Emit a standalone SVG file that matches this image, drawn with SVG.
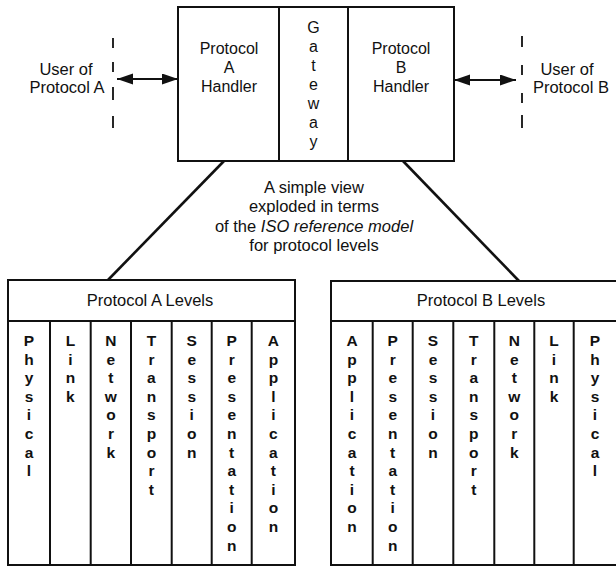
<svg xmlns="http://www.w3.org/2000/svg" width="616" height="567" viewBox="0 0 616 567">
<style>
text{font-family:"Liberation Sans",Arial,sans-serif;font-size:16px;fill:#111;text-anchor:middle}
.big{font-size:16.5px}
.box{fill:#fff;stroke:#111;stroke-width:2}
.ln{stroke:#111;stroke-width:2;fill:none}
.diag{stroke:#111;stroke-width:2.6;fill:none}
.dash{stroke:#111;stroke-width:1.8;fill:none}
.col{font-size:15.5px;font-weight:bold}
</style>
<defs>
<marker id="ah" markerUnits="userSpaceOnUse" markerWidth="17" markerHeight="12" refX="16" refY="5.5" orient="auto-start-reverse">
<path d="M0,0 L16,5.5 L0,11 z" fill="#111"/>
</marker>
</defs>
<rect width="616" height="567" fill="#fff"/>

<g id="userA">
<path class="dash" d="M113 38V48M113 62V72M113 87V100M113 116V128"/>
<text class="big" x="66" y="75">User of</text>
<text class="big" x="67" y="93">Protocol A</text>
</g>

<g id="userB">
<path class="dash" d="M522 36V47M522 65V75M522 93V103M522 115V128"/>
<text class="big" x="567" y="75">User of</text>
<text class="big" x="571" y="93">Protocol B</text>
</g>

<g id="gatewayBox">
<rect class="box" x="178" y="7" width="276" height="154"/>
<line class="ln" x1="279" y1="7" x2="279" y2="161"/>
<line class="ln" x1="348" y1="7" x2="348" y2="161"/>
</g>
<g id="handlerA">
<text x="229" y="54">Protocol</text>
<text x="229" y="73">A</text>
<text x="229" y="92">Handler</text>
</g>
<g id="gateway">
<text x="313.5" y="33">G</text>
<text x="313.5" y="52">a</text>
<text x="313.5" y="71">t</text>
<text x="313.5" y="90">e</text>
<text x="313.5" y="109">w</text>
<text x="313.5" y="128">a</text>
<text x="313.5" y="147">y</text>
</g>
<g id="handlerB">
<text x="401" y="54">Protocol</text>
<text x="401" y="73">B</text>
<text x="401" y="92">Handler</text>
</g>

<g id="caption">
<text class="big" x="314" y="193">A simple view</text>
<text class="big" x="314" y="212">exploded in terms</text>
<text class="big" x="314" y="231.5">of the <tspan font-style="italic">ISO reference model</tspan></text>
<text class="big" x="314" y="251">for protocol levels</text>
</g>

<g id="connectors">
<line class="ln" x1="117" y1="79" x2="178" y2="79" marker-start="url(#ah)" marker-end="url(#ah)"/>
<line class="ln" x1="454" y1="80" x2="516" y2="80" marker-start="url(#ah)" marker-end="url(#ah)"/>
<line class="diag" x1="224" y1="161" x2="108" y2="280"/>
<line class="diag" x1="403" y1="161" x2="519" y2="281"/>
</g>

<g id="levelsA">
<rect class="box" x="8" y="280" width="287" height="285"/>
<line class="ln" x1="8" y1="321" x2="295" y2="321"/>
<path class="ln" d="M50 321V565M90.7 321V565M131 321V565M171.7 321V565M211.7 321V565M251.7 321V565"/>
<text class="big" x="150" y="306">Protocol A Levels</text>
<text class="col"><tspan x="29" y="346">P</tspan><tspan x="29" dy="18.6">h</tspan><tspan x="29" dy="18.6">y</tspan><tspan x="29" dy="18.6">s</tspan><tspan x="29" dy="18.6">i</tspan><tspan x="29" dy="18.6">c</tspan><tspan x="29" dy="18.6">a</tspan><tspan x="29" dy="18.6">l</tspan></text>
<text class="col"><tspan x="70.4" y="346">L</tspan><tspan x="70.4" dy="18.6">i</tspan><tspan x="70.4" dy="18.6">n</tspan><tspan x="70.4" dy="18.6">k</tspan></text>
<text class="col"><tspan x="110.9" y="346">N</tspan><tspan x="110.9" dy="18.6">e</tspan><tspan x="110.9" dy="18.6">t</tspan><tspan x="110.9" dy="18.6">w</tspan><tspan x="110.9" dy="18.6">o</tspan><tspan x="110.9" dy="18.6">r</tspan><tspan x="110.9" dy="18.6">k</tspan></text>
<text class="col"><tspan x="151.4" y="346">T</tspan><tspan x="151.4" dy="18.6">r</tspan><tspan x="151.4" dy="18.6">a</tspan><tspan x="151.4" dy="18.6">n</tspan><tspan x="151.4" dy="18.6">s</tspan><tspan x="151.4" dy="18.6">p</tspan><tspan x="151.4" dy="18.6">o</tspan><tspan x="151.4" dy="18.6">r</tspan><tspan x="151.4" dy="18.6">t</tspan></text>
<text class="col"><tspan x="191.7" y="346">S</tspan><tspan x="191.7" dy="18.6">e</tspan><tspan x="191.7" dy="18.6">s</tspan><tspan x="191.7" dy="18.6">s</tspan><tspan x="191.7" dy="18.6">i</tspan><tspan x="191.7" dy="18.6">o</tspan><tspan x="191.7" dy="18.6">n</tspan></text>
<text class="col"><tspan x="231.7" y="346">P</tspan><tspan x="231.7" dy="18.6">r</tspan><tspan x="231.7" dy="18.6">e</tspan><tspan x="231.7" dy="18.6">s</tspan><tspan x="231.7" dy="18.6">e</tspan><tspan x="231.7" dy="18.6">n</tspan><tspan x="231.7" dy="18.6">t</tspan><tspan x="231.7" dy="18.6">a</tspan><tspan x="231.7" dy="18.6">t</tspan><tspan x="231.7" dy="18.6">i</tspan><tspan x="231.7" dy="18.6">o</tspan><tspan x="231.7" dy="18.6">n</tspan></text>
<text class="col"><tspan x="273.4" y="346">A</tspan><tspan x="273.4" dy="18.6">p</tspan><tspan x="273.4" dy="18.6">p</tspan><tspan x="273.4" dy="18.6">l</tspan><tspan x="273.4" dy="18.6">i</tspan><tspan x="273.4" dy="18.6">c</tspan><tspan x="273.4" dy="18.6">a</tspan><tspan x="273.4" dy="18.6">t</tspan><tspan x="273.4" dy="18.6">i</tspan><tspan x="273.4" dy="18.6">o</tspan><tspan x="273.4" dy="18.6">n</tspan></text>
</g>

<g id="levelsB">
<rect class="box" x="331" y="281" width="290" height="284"/>
<line class="ln" x1="331" y1="321" x2="621" y2="321"/>
<path class="ln" d="M372.7 321V565M412.7 321V565M453.3 321V565M494.3 321V565M534.3 321V565M573.7 321V565"/>
<text class="big" x="481" y="306">Protocol B Levels</text>
<text class="col"><tspan x="352" y="346">A</tspan><tspan x="352" dy="18.6">p</tspan><tspan x="352" dy="18.6">p</tspan><tspan x="352" dy="18.6">l</tspan><tspan x="352" dy="18.6">i</tspan><tspan x="352" dy="18.6">c</tspan><tspan x="352" dy="18.6">a</tspan><tspan x="352" dy="18.6">t</tspan><tspan x="352" dy="18.6">i</tspan><tspan x="352" dy="18.6">o</tspan><tspan x="352" dy="18.6">n</tspan></text>
<text class="col"><tspan x="392.7" y="346">P</tspan><tspan x="392.7" dy="18.6">r</tspan><tspan x="392.7" dy="18.6">e</tspan><tspan x="392.7" dy="18.6">s</tspan><tspan x="392.7" dy="18.6">e</tspan><tspan x="392.7" dy="18.6">n</tspan><tspan x="392.7" dy="18.6">t</tspan><tspan x="392.7" dy="18.6">a</tspan><tspan x="392.7" dy="18.6">t</tspan><tspan x="392.7" dy="18.6">i</tspan><tspan x="392.7" dy="18.6">o</tspan><tspan x="392.7" dy="18.6">n</tspan></text>
<text class="col"><tspan x="433" y="346">S</tspan><tspan x="433" dy="18.6">e</tspan><tspan x="433" dy="18.6">s</tspan><tspan x="433" dy="18.6">s</tspan><tspan x="433" dy="18.6">i</tspan><tspan x="433" dy="18.6">o</tspan><tspan x="433" dy="18.6">n</tspan></text>
<text class="col"><tspan x="473.8" y="346">T</tspan><tspan x="473.8" dy="18.6">r</tspan><tspan x="473.8" dy="18.6">a</tspan><tspan x="473.8" dy="18.6">n</tspan><tspan x="473.8" dy="18.6">s</tspan><tspan x="473.8" dy="18.6">p</tspan><tspan x="473.8" dy="18.6">o</tspan><tspan x="473.8" dy="18.6">r</tspan><tspan x="473.8" dy="18.6">t</tspan></text>
<text class="col"><tspan x="514.3" y="346">N</tspan><tspan x="514.3" dy="18.6">e</tspan><tspan x="514.3" dy="18.6">t</tspan><tspan x="514.3" dy="18.6">w</tspan><tspan x="514.3" dy="18.6">o</tspan><tspan x="514.3" dy="18.6">r</tspan><tspan x="514.3" dy="18.6">k</tspan></text>
<text class="col"><tspan x="554" y="346">L</tspan><tspan x="554" dy="18.6">i</tspan><tspan x="554" dy="18.6">n</tspan><tspan x="554" dy="18.6">k</tspan></text>
<text class="col"><tspan x="595" y="346">P</tspan><tspan x="595" dy="18.6">h</tspan><tspan x="595" dy="18.6">y</tspan><tspan x="595" dy="18.6">s</tspan><tspan x="595" dy="18.6">i</tspan><tspan x="595" dy="18.6">c</tspan><tspan x="595" dy="18.6">a</tspan><tspan x="595" dy="18.6">l</tspan></text>
</g>
</svg>
